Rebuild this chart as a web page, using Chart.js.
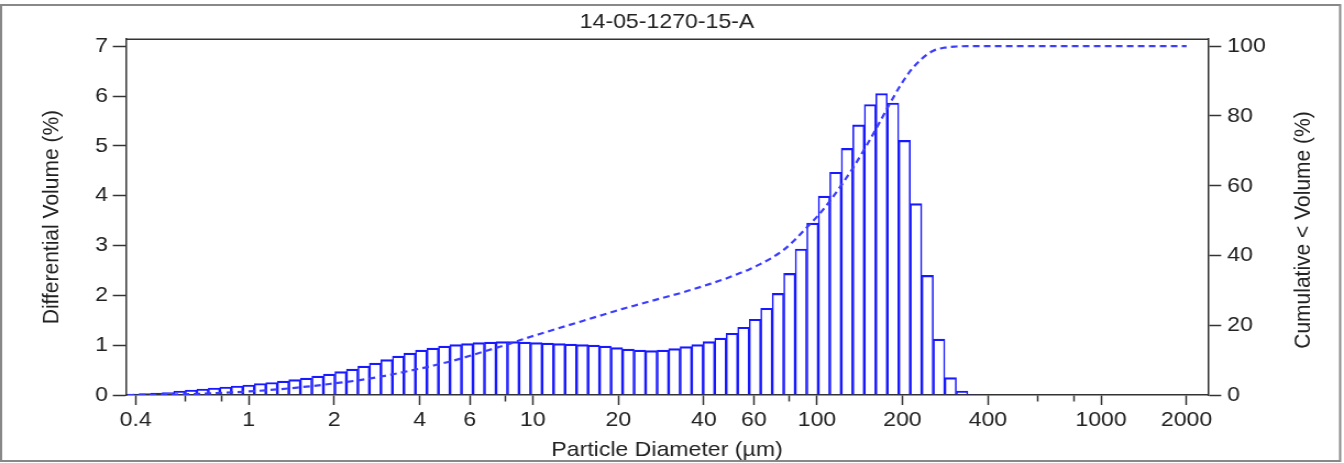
<!DOCTYPE html>
<html>
<head>
<meta charset="utf-8">
<script src="https://cdn.jsdelivr.net/npm/chart.js@4.4.1/dist/chart.umd.min.js"></script>
<style>
  html, body { margin: 0; padding: 0; background: #fff; }
</style>
</head>
<body>
<!-- the original picture is a bit wider than tall, so the canvas is stretched sideways (inline style so Chart.js keeps it) -->
<canvas id="myChart" width="1222" height="463" style="display:block; width:1344px; height:463px;"></canvas>
<script>
// channel edges (um) of the analyser
const binEdges = [0.375, 0.412, 0.452, 0.496, 0.545, 0.598, 0.657, 0.721, 0.791, 0.869,
  0.953, 1.047, 1.149, 1.261, 1.385, 1.520, 1.669, 1.832, 2.011, 2.208,
  2.423, 2.660, 2.920, 3.206, 3.519, 3.863, 4.241, 4.656, 5.111, 5.611,
  6.159, 6.761, 7.422, 8.148, 8.944, 9.819, 10.78, 11.83, 12.99, 14.26,
  15.65, 17.18, 18.86, 20.71, 22.73, 24.95, 27.39, 30.07, 33.01, 36.24,
  39.78, 43.67, 47.94, 52.62, 57.77, 63.41, 69.61, 76.42, 83.89, 92.09,
  101.1, 111.0, 121.8, 133.7, 146.8, 161.2, 176.9, 194.2, 213.2, 234.1,
  256.9, 282.1, 309.6, 339.9, 373.1];

// differential volume (%) per channel
const diffVolume = [0.02, 0.03, 0.04, 0.05, 0.08, 0.10, 0.12, 0.14, 0.16, 0.18,
  0.20, 0.23, 0.25, 0.28, 0.31, 0.34, 0.38, 0.42, 0.47, 0.52,
  0.58, 0.64, 0.71, 0.78, 0.84, 0.90, 0.94, 0.98, 1.01, 1.03,
  1.05, 1.06, 1.07, 1.07, 1.06, 1.05, 1.04, 1.03, 1.02, 1.01,
  1.00, 0.98, 0.95, 0.92, 0.90, 0.89, 0.90, 0.93, 0.97, 1.01,
  1.07, 1.14, 1.24, 1.36, 1.52, 1.74, 2.04, 2.44, 2.93, 3.45,
  3.99, 4.47, 4.95, 5.42, 5.83, 6.05, 5.86, 5.11, 3.84, 2.40,
  1.12, 0.35, 0.08, 0.01];

// cumulative < volume (%) read at the channel edges, then flat out to 2000 um
const cumDiameter = [...binEdges, 2000];
const cumVolume = [0, 0.02, 0.05, 0.09, 0.14, 0.22, 0.32, 0.44, 0.58, 0.74,
  0.92, 1.12, 1.35, 1.60, 1.89, 2.22, 2.56, 2.94, 3.36, 3.75,
  4.2, 4.7, 5.3, 5.9, 6.6, 7.3, 8.0, 8.8, 9.6, 10.5,
  11.5, 12.5, 13.5, 14.5, 15.6, 16.7, 17.7, 18.7, 19.7, 20.7,
  21.7, 22.7, 23.7, 24.7, 25.6, 26.5, 27.4, 28.3, 29.2, 30.2,
  31.2, 32.3, 33.4, 34.7, 36.0, 37.6, 39.4, 41.6, 44.6, 48.0,
  51.5, 55.6, 60.1, 65.0, 70.4, 76.2, 82.2, 88.0, 92.9, 96.4,
  98.7, 99.6, 99.9, 100, 100, 100];

const xTickValues = [0.4, 0.6, 0.8, 1, 2, 4, 6, 8, 10, 20, 40, 60, 80, 100, 200, 400, 600, 800, 1000, 2000];
const xTickLabels = [0.4, 1, 2, 4, 6, 10, 20, 40, 60, 100, 200, 400, 1000, 2000];

const SX = 1344 / 1222;   // horizontal stretch of the canvas
const INK = '#222';
const BLUE = 'rgb(25, 25, 255)';
const FONT = { family: '"Liberation Sans", Arial, sans-serif', size: 21 };

Chart.defaults.font.family = FONT.family;
Chart.defaults.color = INK;

const bars = diffVolume.map((v, i) => ({ x: Math.sqrt(binEdges[i] * binEdges[i + 1]), y: v }));
const cumLine = cumVolume.map((v, i) => ({ x: cumDiameter[i], y: v }));

// outer frame, top of the plot box and the right-hand axis title
const framePlugin = {
  id: 'frame',
  afterDraw(chart) {
    const ctx = chart.ctx;
    const a = chart.chartArea;
    ctx.save();
    ctx.strokeStyle = '#888';
    ctx.lineWidth = 2;
    ctx.strokeRect(1, 5, 1339 / SX, 456);
    ctx.strokeStyle = '#333';
    ctx.lineWidth = 1.5;
    ctx.beginPath();
    ctx.moveTo(a.left, a.top);
    ctx.lineTo(a.right, a.top);
    ctx.stroke();
    ctx.translate(1303 / SX, 230);
    ctx.rotate(-Math.PI / 2);
    ctx.fillStyle = INK;
    ctx.font = FONT.size + 'px ' + FONT.family;
    ctx.textAlign = 'center';
    ctx.textBaseline = 'middle';
    ctx.fillText('Cumulative < Volume (%)', 0, 0);
    ctx.restore();
  }
};

const axisGrid = { drawOnChartArea: false, tickColor: '#333', tickWidth: 1.5 };
const axisBorder = { color: '#333', width: 1.5 };

const config = {
  type: 'bar',
  data: {
    datasets: [
      {
        type: 'line',
        label: 'Cumulative',
        data: cumLine,
        yAxisID: 'y2',
        borderColor: 'rgb(60, 60, 255)',
        borderWidth: 2.2,
        borderDash: [6, 4],
        pointRadius: 0,
        cubicInterpolationMode: 'monotone',
        fill: false,
        order: 0
      },
      {
        label: 'Differential',
        data: bars,
        yAxisID: 'y',
        backgroundColor: 'rgba(255, 255, 255, 0)',
        borderColor: BLUE,
        borderWidth: { top: 1.5, left: 0.9, right: 0.9, bottom: 0 },
        borderSkipped: false,
        barThickness: 'flex',
        categoryPercentage: 1,
        barPercentage: 1,
        order: 1
      }
    ]
  },
  options: {
    responsive: false,
    animation: false,
    layout: { padding: 0 },
    plugins: {
      legend: { display: false },
      tooltip: { enabled: false },
      title: {
        display: true,
        text: '14-05-1270-15-A',
        color: INK,
        fullSize: false,
        font: { size: FONT.size, weight: 'normal' },
        padding: { top: 10, bottom: 4 }
      }
    },
    scales: {
      x: {
        type: 'logarithmic',
        position: 'bottom',
        min: 0.37,
        max: 2380,
        offset: false,
        grid: {
          ...axisGrid,
          offset: false,
          tickLength: 10,
          tickBorderDash: (ctx) => (ctx.tick && !xTickLabels.includes(ctx.tick.value)) ? [6, 40] : []
        },
        border: axisBorder,
        ticks: {
          autoSkip: false,
          maxRotation: 0,
          padding: 3,
          font: { size: FONT.size },
          callback: (v) => xTickLabels.includes(v) ? String(v) : ''
        },
        afterBuildTicks: (s) => { s.ticks = xTickValues.map(v => ({ value: v })); },
        afterFit: (s) => { s.height = 68; },
        title: {
          display: true,
          text: 'Particle Diameter (µm)',
          font: { size: FONT.size },
          padding: { top: 5.4, bottom: 0 }
        }
      },
      y: {
        position: 'left',
        min: 0,
        max: 7.14,
        grid: { ...axisGrid, tickLength: 12 },
        border: axisBorder,
        ticks: { stepSize: 1, includeBounds: false, padding: 4.5, font: { size: FONT.size } },
        afterFit: (s) => { s.width = 126 / SX; },
        title: {
          display: true,
          text: 'Differential Volume (%)',
          font: { size: FONT.size },
          padding: { top: 52 / SX - 12.6, bottom: 0 }
        }
      },
      y2: {
        position: 'right',
        min: 0,
        max: 102,
        grid: { ...axisGrid, tickLength: 12 },
        border: axisBorder,
        ticks: { stepSize: 20, includeBounds: false, padding: 5.5, font: { size: FONT.size } },
        afterFit: (s) => { s.width = 1222 - 1208 / SX; }
      }
    }
  },
  plugins: [framePlugin]
};

const myChart = new Chart(document.getElementById('myChart'), config);
</script>
</body>
</html>
